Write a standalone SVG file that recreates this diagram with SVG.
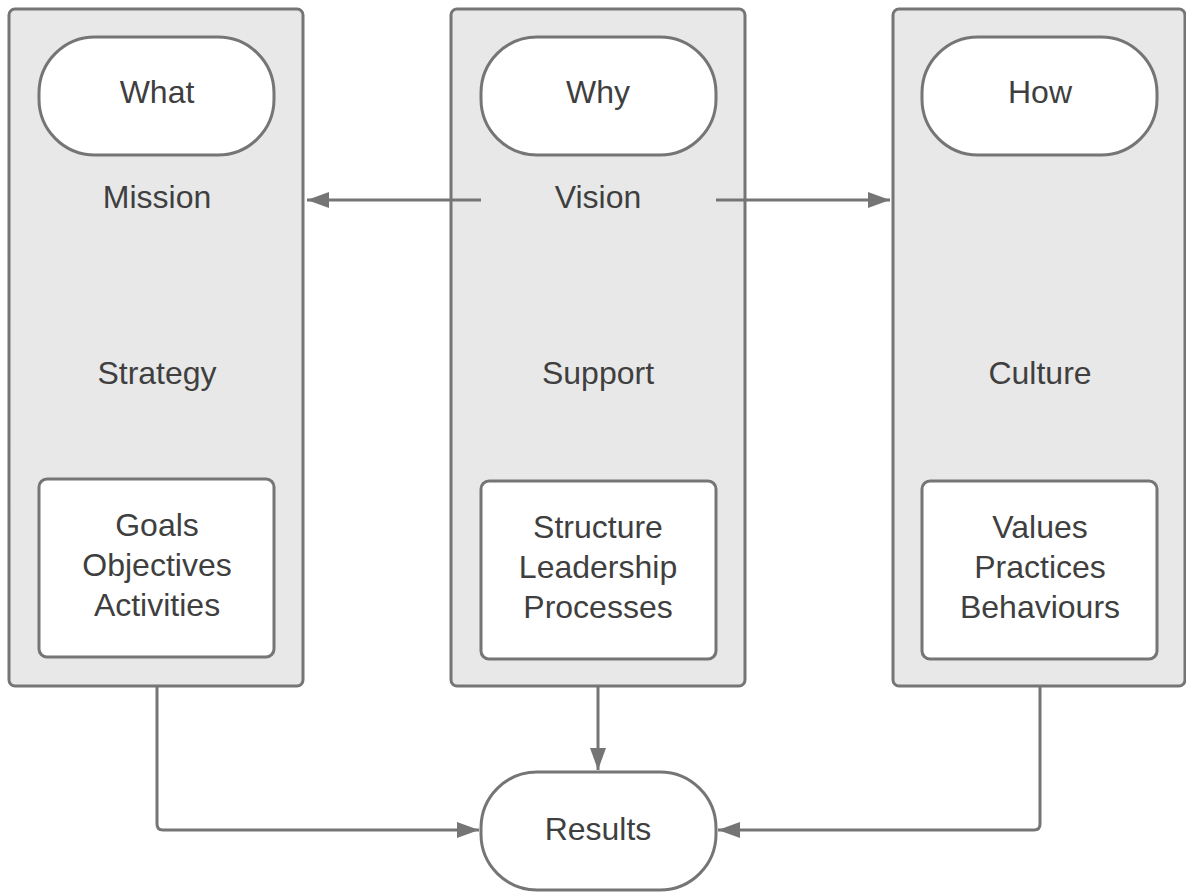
<svg xmlns="http://www.w3.org/2000/svg" width="1186" height="893" viewBox="0 0 1186 893">
<defs>
<style>
.col{fill:#e8e8e8;stroke:#757575;stroke-width:3}
.pill{fill:#ffffff;stroke:#757575;stroke-width:3}
.box{fill:#ffffff;stroke:#757575;stroke-width:3}
.t{font-family:"Liberation Sans",Arial,sans-serif;font-size:32px;fill:#3f3f3f;text-anchor:middle;dominant-baseline:central}
.c{fill:none;stroke:#757575;stroke-width:3}
</style>
<marker id="ah" markerUnits="userSpaceOnUse" markerWidth="24" markerHeight="20" refX="22" refY="10" orient="auto">
<path d="M0,2 L22,10 L0,18 Z" fill="#757575"/>
</marker>
</defs>
<rect width="1186" height="893" fill="#ffffff"/>
<g id="col-what">
<rect class="col" x="9" y="9" width="294" height="677" rx="6"/>
<rect class="pill" x="39" y="37" width="235" height="118" rx="56"/>
<text class="t" x="157" y="92">What</text>
<text class="t" x="157" y="197">Mission</text>
<text class="t" x="157" y="373">Strategy</text>
<rect class="box" x="39" y="479" width="235" height="178" rx="8"/>
<text class="t" x="157" y="525">Goals</text>
<text class="t" x="157" y="565">Objectives</text>
<text class="t" x="157" y="605">Activities</text>
</g>
<g id="col-why">
<rect class="col" x="451" y="9" width="294" height="677" rx="6"/>
<rect class="pill" x="481" y="37" width="235" height="118" rx="56"/>
<text class="t" x="598" y="92">Why</text>
<text class="t" x="598" y="197">Vision</text>
<text class="t" x="598" y="373">Support</text>
<rect class="box" x="481" y="481" width="235" height="178" rx="8"/>
<text class="t" x="598" y="527">Structure</text>
<text class="t" x="598" y="567">Leadership</text>
<text class="t" x="598" y="607">Processes</text>
</g>
<g id="col-how">
<rect class="col" x="893" y="9" width="292" height="677" rx="6"/>
<rect class="pill" x="922" y="37" width="235" height="118" rx="56"/>
<text class="t" x="1040" y="92">How</text>
<text class="t" x="1040" y="373">Culture</text>
<rect class="box" x="922" y="481" width="235" height="178" rx="8"/>
<text class="t" x="1040" y="527">Values</text>
<text class="t" x="1040" y="567">Practices</text>
<text class="t" x="1040" y="607">Behaviours</text>
</g>
<g id="results">
<rect class="pill" x="481" y="772" width="235" height="118" rx="56"/>
<text class="t" x="598" y="829">Results</text>
</g>
<g id="connectors">
<path class="c" d="M481,200 L307,200" marker-end="url(#ah)"/>
<path class="c" d="M716,200 L890,200" marker-end="url(#ah)"/>
<path class="c" d="M157,686 L157,824 Q157,830 163,830 L479,830" marker-end="url(#ah)"/>
<path class="c" d="M598,686 L598,770" marker-end="url(#ah)"/>
<path class="c" d="M1040,686 L1040,824 Q1040,830 1034,830 L718,830" marker-end="url(#ah)"/>
</g>
</svg>
